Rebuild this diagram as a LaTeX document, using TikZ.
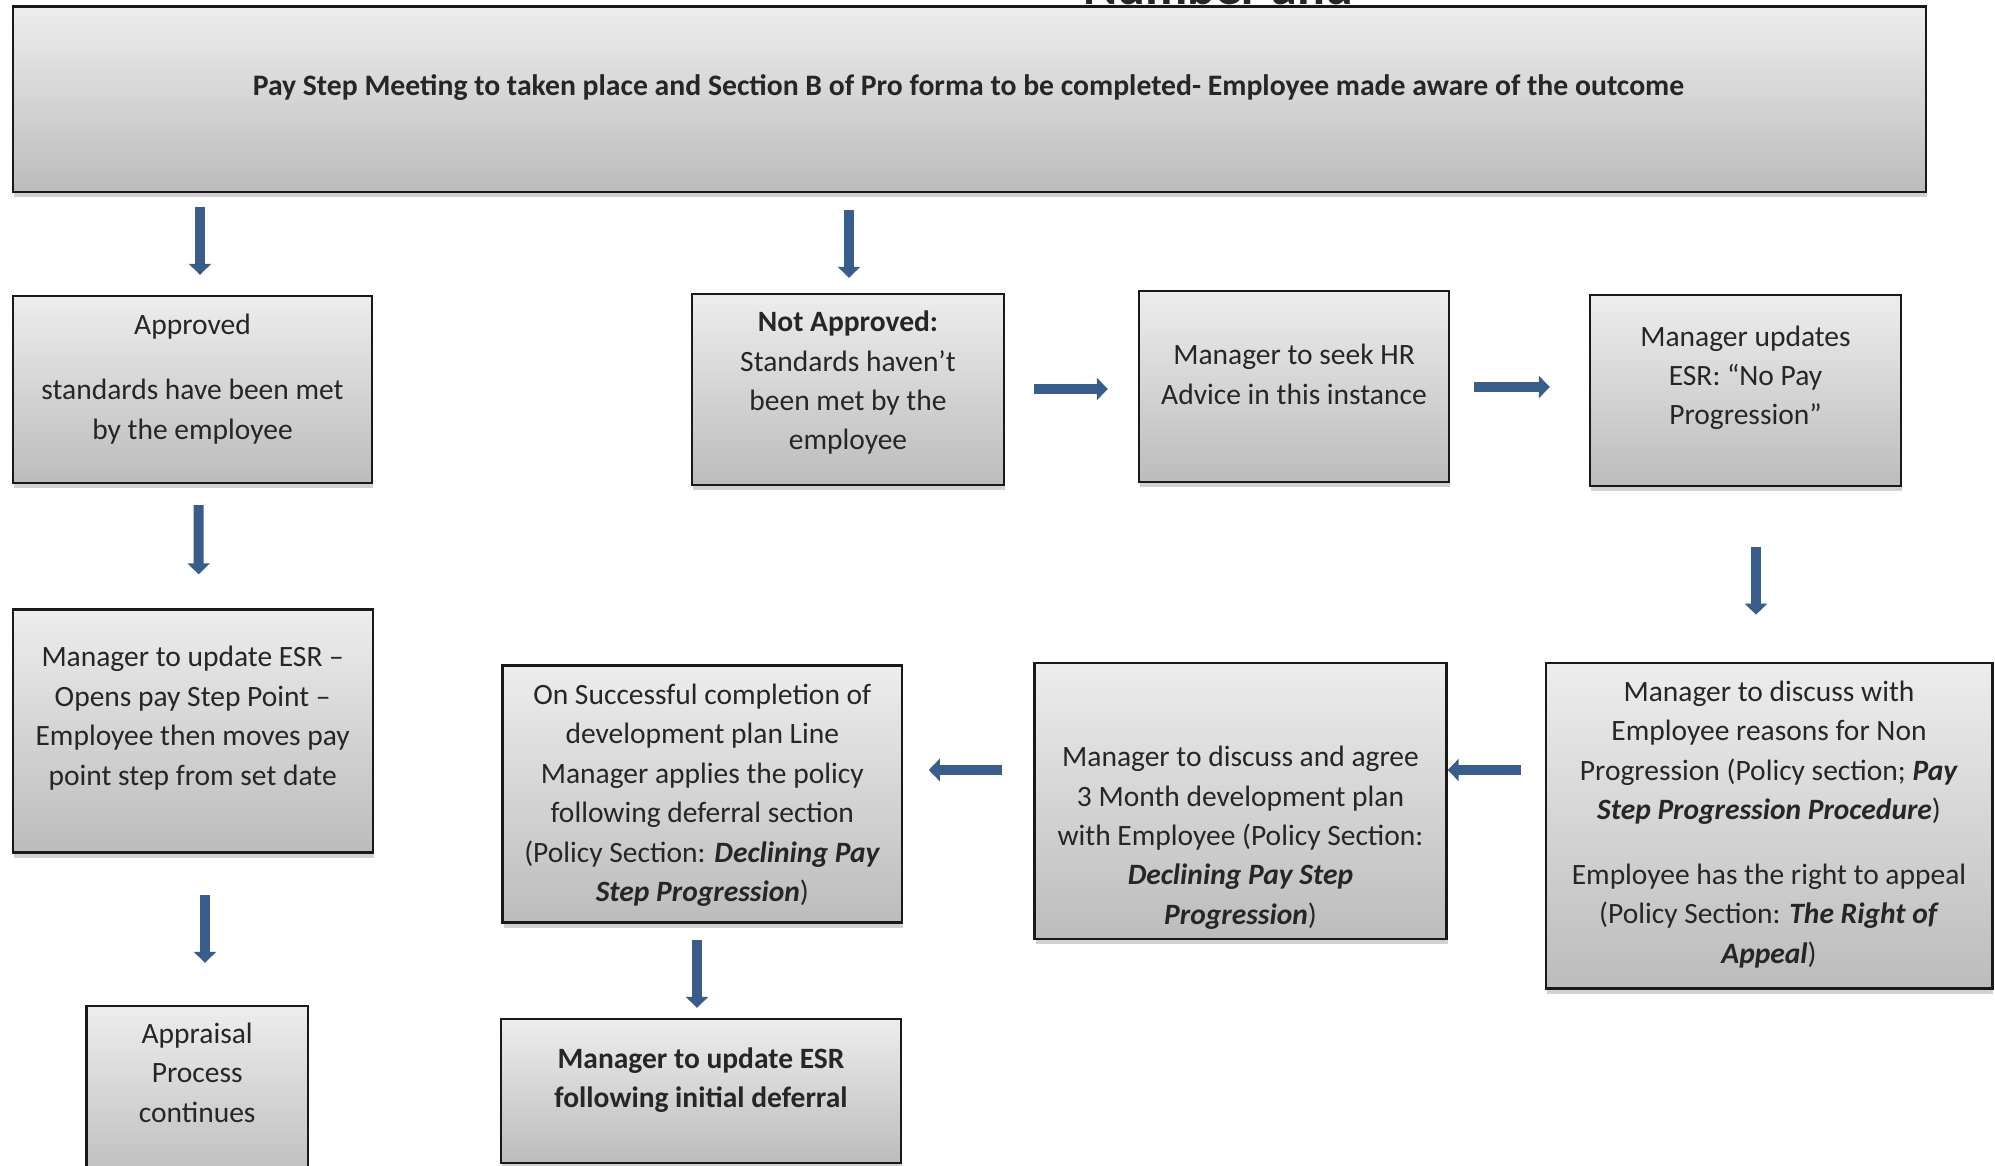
\documentclass[tikz,border=0pt]{standalone}
\usepackage{fontspec}
\setmainfont{Carlito}
\usetikzlibrary{arrows.meta,calc,shadows}
\definecolor{arrowblue}{RGB}{56,93,138}
\definecolor{boxtop}{RGB}{237,237,237}
\definecolor{boxbot}{RGB}{188,188,188}
\definecolor{txtcol}{RGB}{38,38,38}
\newcommand{\bi}[1]{\textbf{\textit{#1}}}
\begin{document}
\begin{tikzpicture}[x=1pt,y={(0pt,-1pt)},
 box/.style={draw=black!90, line width=2.4pt, top color=boxtop, bottom color=boxbot, inner sep=0pt,
   drop shadow={shadow xshift=1pt, shadow yshift=-5pt, opacity=0.3, fill=black!60}},
 txt/.style={align=center, font=\fontsize{29.5}{39.4}\selectfont, text=txtcol, inner sep=0pt},
 arr/.style={draw=arrowblue, line width=10pt, -{Triangle[width=22pt,length=11pt]}}]
\useasboundingbox (0,0) rectangle (1995,1165);

% partially hidden heading
\node[font=\fontsize{52}{60}\selectfont\bfseries, text=txtcol, anchor=base west, inner sep=0pt] (hdr) at (1083,4) {Number and};

% boxes
\node[box, minimum width=1913pt, minimum height=185.6pt] (top) at (969.4,99.2) {};
\node[box, minimum width=359.5pt, minimum height=187pt] (appr) at (192.5,389.5) {};
\node[box, minimum width=312pt, minimum height=191pt] (notappr) at (848,389.5) {};
\node[box, minimum width=310pt, minimum height=191pt] (hr) at (1294,386.5) {};
\node[box, minimum width=311pt, minimum height=191pt] (mupd) at (1745.5,390.5) {};
\node[box, minimum width=360pt, minimum height=243pt] (esr) at (192.7,731) {};
\node[box, minimum width=399.5pt, minimum height=257pt] (succ) at (702.3,794) {};
\node[box, minimum width=412pt, minimum height=276pt] (month) at (1240.5,801) {};
\node[box, minimum width=446.6pt, minimum height=325.7pt] (discuss) at (1769,825.7) {};
\node[box, minimum width=221.5pt, minimum height=180pt] (appraisal) at (197.2,1096) {};
\node[box, minimum width=399.5pt, minimum height=144pt] (follow) at (701,1091) {};

% texts
\node[txt, font=\fontsize{29.7}{39.4}\selectfont\bfseries] (topT) at (968.5,87.3) {Pay Step Meeting to taken place and Section B of Pro forma to be completed- Employee made aware of the outcome};
\node[txt] (apprT) at (192.5,379.1) {Approved\\[25.5pt] standards have been met\\ by the employee};
\node[txt] (notapprT) at (848,382.9) {\textbf{Not Approved:}\\ Standards haven’t\\ been met by the\\ employee};
\node[txt] (hrT) at (1294,374.2) {Manager to seek HR\\ Advice in this instance};
\node[txt] (mupdT) at (1745.5,377.8) {Manager updates\\ ESR: “No Pay\\ Progression”};
\node[txt] (esrT) at (192.7,718.2) {Manager to update ESR –\\ Opens pay Step Point –\\ Employee then moves pay\\ point step from set date};
\node[txt] (succT) at (702.3,795.2) {On Successful completion of\\ development plan Line\\ Manager applies the policy\\ following deferral section\\ (Policy Section: \bi{Declining Pay}\\ \bi{Step Progression})};
\node[txt] (monthT) at (1240.5,837.8) {Manager to discuss and agree\\ 3 Month development plan\\ with Employee (Policy Section:\\ \bi{Declining Pay Step}\\ \bi{Progression})};
\node[txt] (discussT) at (1769,824.5) {Manager to discuss with\\ Employee reasons for Non\\ Progression (Policy section; \bi{Pay}\\ \bi{Step Progression Procedure})\\[25.4pt] Employee has the right to appeal\\ (Policy Section: \bi{The Right of}\\ \bi{Appeal})};
\node[txt] (appraisalT) at (197.2,1072.6) {Appraisal\\ Process\\ continues};
\node[txt, font=\fontsize{29.5}{39.4}\selectfont\bfseries] (followT) at (701,1080.2) {Manager to update ESR\\ following initial deferral};

% arrows
\draw[arr] ($(appr.north |- top.south)+(7.5,14)$) -- ($(appr.north)+(7.5,-20)$);
\draw[arr] ($(notappr.north |- top.south)+(1,17)$) -- ($(notappr.north)+(1,-15)$);
\draw[arr] ($(appr.south)+(6,21)$) -- ($(esr.north)+(6,-34)$);
\draw[arr] ($(esr.south)+(12.3,41.6)$) -- ($(esr.south |- appraisal.north)+(12.3,-42)$);
\draw[arr] ($(notappr.east)+(29,-0.5)$) -- ($(notappr.east -| hr.west)+(-30,-0.5)$);
\draw[arr] ($(hr.east)+(24,0.5)$) -- ($(hr.east -| mupd.west)+(-39,0.5)$);
\draw[arr] ($(mupd.south)+(10.5,60)$) -- ($(mupd.south |- discuss.north)+(10.5,-47)$);
\draw[arr] ($(discuss.west)+(-24,-55.7)$) -- ($(discuss.west -| month.east)+(0,-55.7)$);
\draw[arr] ($(month.west)+(-31.4,-31)$) -- ($(month.west -| succ.east)+(25.5,-31)$);
\draw[arr] ($(succ.south)+(-5.3,16.6)$) -- ($(succ.south |- follow.north)+(-5.3,-10)$);
\end{tikzpicture}
\end{document}
